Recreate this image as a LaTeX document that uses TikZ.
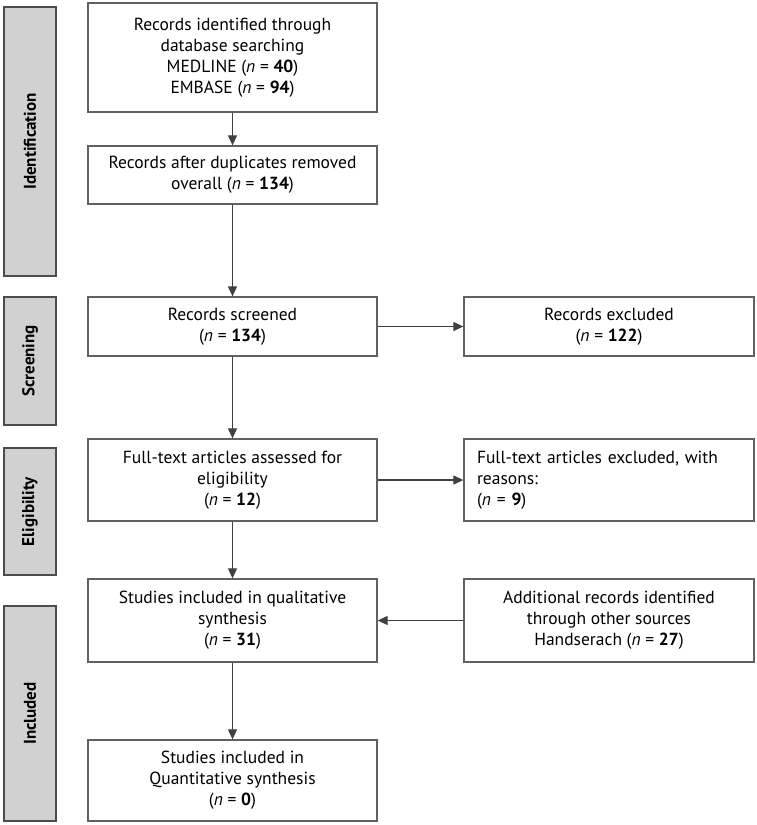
\documentclass[tikz,border=0pt]{standalone}
\usepackage{fontspec}
\setmainfont{PT Sans}
\usetikzlibrary{arrows.meta}
\begin{document}
\begin{tikzpicture}[x=1pt,y=-1pt,
  box/.style={draw=black!62, line width=1.3pt, fill=white, minimum width=289pt, inner sep=0pt, align=center, font=\fontsize{17.5}{21}\selectfont},
  bar/.style={draw=black!70, line width=1.3pt, fill=black!18, minimum width=52pt, inner sep=0pt, font=\fontsize{17}{20}\selectfont\bfseries},
  arr/.style={draw=black!75, line width=1.2pt, -{Triangle[length=10pt,width=9pt]}}]
\useasboundingbox (0,0) rectangle (757,825);
% side bars
\node[bar, minimum height=269pt] (b1) at (30,141.5) {\rotatebox{90}{Identification}};
\node[bar, minimum height=128pt] (b2) at (30,361) {\rotatebox{90}{Screening}};
\node[bar, minimum height=127pt] (b3) at (30,511.5) {\rotatebox{90}{Eligibility}};
\node[bar, minimum height=215pt] (b4) at (30,713.5) {\rotatebox{90}{Included}};
% main column
\node[box, minimum height=109pt] (n1) at (232.5,57.5) {Records identified through\\database searching\\MEDLINE (\textit{n} = \textbf{40})\\EMBASE (\textit{n} = \textbf{94})};
\node[box, minimum height=58pt] (n2) at (232.5,175) {Records after duplicates removed\\overall (\textit{n} = \textbf{134})};
\node[box, minimum height=59pt] (n3) at (232.5,326.5) {Records screened\\(\textit{n} = \textbf{134})};
\node[box, minimum height=82pt] (n4) at (232.5,480) {Full-text articles assessed for\\eligibility\\(\textit{n} = \textbf{12})};
\node[box, minimum height=83pt] (n5) at (232.5,620.5) {Studies included in qualitative\\synthesis\\(\textit{n} = \textbf{31})};
\node[box, minimum height=81pt] (n6) at (232.5,780.5) {Studies included in\\Quantitative synthesis\\(\textit{n} = \textbf{0})};
% right column
\node[box, minimum width=290pt, minimum height=59pt] (r1) at (609,326.5) {Records excluded\\(\textit{n} = \textbf{122})};
\node[box, minimum width=290pt, minimum height=82pt, align=left, text width=264pt, inner xsep=13pt] (r2) at (609,480) {Full-text articles excluded, with\\reasons:\\(\textit{n} = \textbf{9})};
\node[box, minimum width=290pt, minimum height=83pt] (r3) at (609,620.5) {Additional records identified\\through other sources\\Handserach (\textit{n} = \textbf{27})};
% arrows
\draw[arr] (n1) -- (n2);
\draw[arr] (n2) -- (n3);
\draw[arr] (n3) -- (n4);
\draw[arr] (n4) -- (n5);
\draw[arr] (n5) -- (n6);
\draw[arr] (n3) -- (r1);
\draw[arr] (n4) -- (r2);
\draw[arr] (r3) -- (n5);
\end{tikzpicture}
\end{document}
